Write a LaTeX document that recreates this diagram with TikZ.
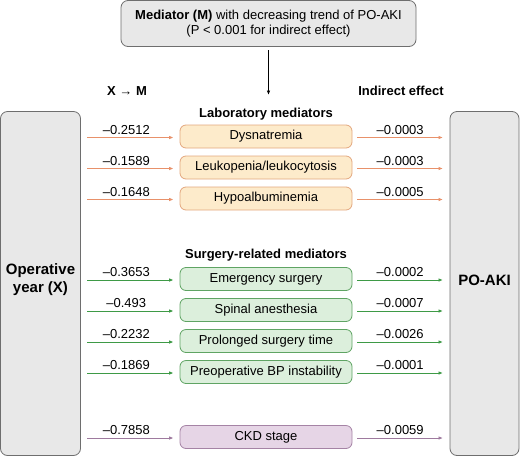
\documentclass[tikz,border=0pt]{standalone}
\usepackage{fontspec}
\setmainfont{Liberation Sans}
\usetikzlibrary{arrows.meta}
\definecolor{grayfill}{HTML}{E8E8E8}
\definecolor{grayline}{HTML}{6E6E6E}
\definecolor{labfill}{HTML}{FDEBCB}
\definecolor{labline}{HTML}{E3A77E}
\definecolor{labarrow}{HTML}{E8916A}
\definecolor{surgfill}{HTML}{DCEFDC}
\definecolor{surgline}{HTML}{5FA463}
\definecolor{surgarrow}{HTML}{3E9A46}
\definecolor{ckdfill}{HTML}{E6D5E6}
\definecolor{ckdline}{HTML}{A583A5}
\definecolor{ckdarrow}{HTML}{9E7A9E}
\tikzset{
  x=1pt,y=-1pt,
  every node/.style={font=\fontsize{13}{15.5}\selectfont, inner sep=0pt},
  graybox/.style={draw=grayline, fill=grayfill, rounded corners=7pt, line width=0.8pt},
  medbox/.style={rounded corners=6pt, line width=0.8pt, minimum width=172pt, minimum height=23pt},
  labbox/.style={medbox, draw=labline, fill=labfill},
  surgbox/.style={medbox, draw=surgline, fill=surgfill},
  ckdbox/.style={medbox, draw=ckdline, fill=ckdfill},
  conn/.style={line width=0.9pt, -{Latex[length=4.5pt,width=3.6pt]}},
  head/.style={font=\bfseries\fontsize{13}{15.5}\selectfont},
  val/.style={font=\fontsize{13}{15.5}\selectfont},
  side/.style={font=\bfseries\fontsize{15}{18}\selectfont, align=center},
}
\begin{document}
\begin{tikzpicture}
\useasboundingbox (0,0) rectangle (520,456);
% top box
\node[graybox, minimum width=295pt, minimum height=46pt, align=center] (top) at (268.5,23.5)
  {\textbf{Mediator (M)} with decreasing trend of PO-AKI\\(P < 0.001 for indirect effect)};
\coordinate (arrstart) at (268.5,50);
\coordinate (arrend) at (268.5,95);
\draw[line width=0.9pt, -{Latex[length=4.5pt,width=3.6pt]}] (arrstart) -- (arrend);
% headers
\node[head] (xm) at (127,91) {X → M};
\node[head] (ie) at (401,91) {Indirect effect};
% big side boxes
\node[graybox, minimum width=80pt, minimum height=344pt] (X) at (40.5,283.5) {};
\node[side] (Xl) at (40.5,280) {Operative\\year (X)};
\node[graybox, minimum width=69pt, minimum height=344pt] (Y) at (484.5,283.5) {};
\node[side] (Yl) at (484.5,280) {PO-AKI};
% group titles
\node[head] (labt) at (266,114) {Laboratory mediators};
\node[head] (surgt) at (266,255) {Surgery-related mediators};
% mediators
\foreach \name/\txt/\yy/\sty/\ac/\a/\b in {
  m1/Dysnatremia/136.5/labbox/labarrow/–0.2512/–0.0003,
  m2/Leukopenia\slash leukocytosis/167.5/labbox/labarrow/–0.1589/–0.0003,
  m3/Hypoalbuminemia/198.5/labbox/labarrow/–0.1648/–0.0005,
  m4/Emergency surgery/279/surgbox/surgarrow/–0.3653/–0.0002,
  m5/Spinal anesthesia/310/surgbox/surgarrow/–0.493/–0.0007,
  m6/Prolonged surgery time/341/surgbox/surgarrow/–0.2232/–0.0026,
  m7/Preoperative BP instability/372/surgbox/surgarrow/–0.1869/–0.0001,
  m8/CKD stage/437/ckdbox/ckdarrow/–0.7858/–0.0059}{
  \node[\sty] (\name) at (266,\yy) {\txt};
  \coordinate (\name L) at (87,\yy+1);
  \coordinate (\name R) at (443,\yy+1);
  \draw[conn, draw=\ac, fill=\ac] (\name L) -- ([xshift=-6pt]\name.west |- \name L)
     node[midway, above=2.5pt, val, text=black, xshift=-4pt] {\a};
  \draw[conn, draw=\ac, fill=\ac] ([xshift=5pt]\name.east |- \name R) -- (\name R)
     node[midway, above=2.5pt, val, text=black] {\b};
}
\end{tikzpicture}
\end{document}
